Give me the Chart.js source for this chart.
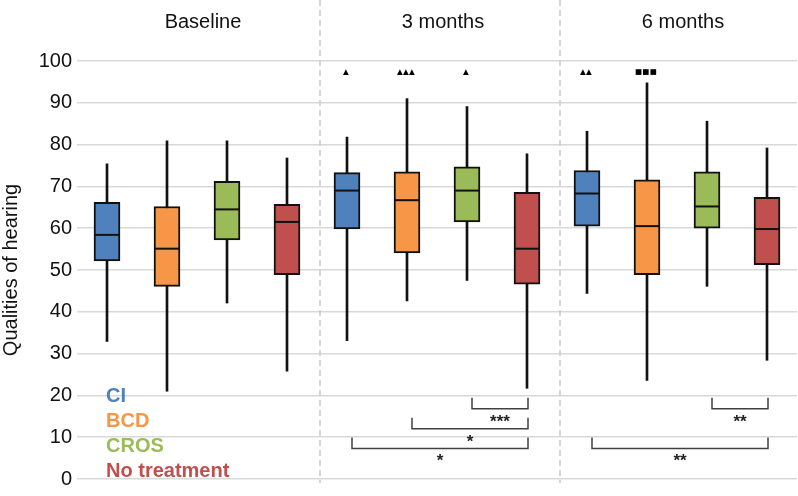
<!DOCTYPE html>
<html><head><meta charset="utf-8">
<script src="https://cdn.jsdelivr.net/npm/chart.js@4"></script>
<style>html,body{margin:0;padding:0;background:#fff}#wrap{width:798px;height:496px;position:relative}</style>
</head><body><div id="wrap"><canvas id="c"></canvas></div>
<script>
// ---- data ----
const groups = ['Baseline', '3 months', '6 months'];
const treatments = ['CI', 'BCD', 'CROS', 'No treatment'];
const treatmentColors = ['#4F81BD', '#F79646', '#9BBB59', '#C0504D'];
const whiskerLow  = [32.9, 21.0, 42.1, 25.8,  33.1, 42.6, 47.5, 21.7,  44.4, 23.6, 46.1, 28.4];
const q1          = [52.2, 46.1, 57.2, 48.9,  59.8, 54.1, 61.5, 46.6,  60.5, 48.9, 60.0, 51.3];
const median      = [58.4, 55.1, 64.5, 61.5,  69.0, 66.7, 69.0, 55.1,  68.3, 60.5, 65.2, 59.8];
const q3          = [66.2, 65.2, 71.2, 65.7,  73.3, 73.5, 74.7, 68.6,  73.8, 71.6, 73.5, 67.4];
const whiskerHigh = [75.4, 80.9, 80.9, 76.8,  81.8, 91.0, 89.1, 77.8,  83.2, 94.8, 85.6, 79.2];
const outlierMarks = ['', '', '', '',  '▲', '▲▲▲', '▲', '',  '▲▲', '■■■', '', ''];
const outlierLevel = 97.4;
const bracketFrom  = [6, 5, 4, 10, 8];
const bracketTo    = [7, 7, 7, 11, 11];
const bracketLevel = [16.8, 12.0, 7.3, 16.8, 7.3];
const bracketLabel = ['***', '*', '*', '**', '**'];
const yMin = 0, yMax = 100, yStep = 10;
const yTitle = 'Qualities of hearing';

// ---- derived tables ----
const categories = groups.flatMap(g => treatments.map(t => g + ' ' + t));
const catColors = categories.map((c, i) => treatmentColors[i % treatments.length]);
const FONT = '"Liberation Sans", Arial, sans-serif';

const deco = {
  id: 'deco',
  beforeDatasetsDraw(chart) {
    const {ctx, chartArea, scales: {x}} = chart;
    ctx.save();
    ctx.strokeStyle = '#c8c8c8'; ctx.lineWidth = 1.5; ctx.setLineDash([6, 4]);
    for (let g = 1; g < groups.length; g++) {
      const i = g * treatments.length;
      const px = (x.getPixelForValue(i - 1) + x.getPixelForValue(i)) / 2 + 3;
      ctx.beginPath(); ctx.moveTo(px, 0); ctx.lineTo(px, chartArea.bottom + 4); ctx.stroke();
    }
    ctx.restore();
  },
  afterDatasetsDraw(chart) {
    const {ctx, chartArea, scales: {x, y}} = chart;
    ctx.save();
    // medians
    const meta = chart.getDatasetMeta(1);
    ctx.strokeStyle = '#111'; ctx.lineWidth = 2;
    meta.data.forEach((bar, i) => {
      const py = y.getPixelForValue(median[i]);
      ctx.beginPath(); ctx.moveTo(bar.x - bar.width / 2 + 1, py); ctx.lineTo(bar.x + bar.width / 2 - 1, py); ctx.stroke();
    });
    // outlier markers
    ctx.fillStyle = '#000';
    ctx.font = '7.5px "DejaVu Sans", sans-serif';
    ctx.letterSpacing = '0.3px';
    ctx.textAlign = 'center'; ctx.textBaseline = 'middle';
    outlierMarks.forEach((m, i) => {
      if (!m) return;
      ctx.fillText(m, x.getPixelForValue(i) - 1, y.getPixelForValue(outlierLevel));
    });
    ctx.letterSpacing = '0px';
    // significance brackets
    ctx.strokeStyle = '#404040'; ctx.lineWidth = 1.5;
    ctx.font = 'bold 17px ' + FONT; ctx.textBaseline = 'alphabetic';
    ctx.fillStyle = '#222';
    bracketFrom.forEach((f, k) => {
      const x1 = x.getPixelForValue(f) + 5, x2 = x.getPixelForValue(bracketTo[k]) + 1;
      const py = y.getPixelForValue(bracketLevel[k]);
      ctx.beginPath();
      ctx.moveTo(x1, py - 11); ctx.lineTo(x1, py); ctx.lineTo(x2, py); ctx.lineTo(x2, py - 11);
      ctx.stroke();
      ctx.fillText(bracketLabel[k], (x1 + x2) / 2, py + 18);
    });
    // group titles
    ctx.font = '20px ' + FONT; ctx.fillStyle = '#111';
    groups.forEach((g, gi) => {
      const a = x.getPixelForValue(gi * treatments.length);
      const b = x.getPixelForValue(gi * treatments.length + treatments.length - 1);
      ctx.fillText(g, (a + b) / 2 + 6, 28);
    });
    // legend (coloured labels)
    ctx.font = 'bold 20px ' + FONT; ctx.textAlign = 'left';
    treatments.forEach((t, i) => {
      ctx.fillStyle = treatmentColors[i];
      ctx.fillText(t, chartArea.left + 29, chartArea.bottom - 77 + i * 25);
    });
    ctx.restore();
  }
};

new Chart(document.getElementById('c'), {
  type: 'bar',
  data: {
    labels: categories,
    datasets: [
      {
        label: 'whiskers',
        data: categories.map((c, i) => [whiskerLow[i], whiskerHigh[i]]),
        backgroundColor: '#111', borderWidth: 0, barThickness: 2,
        grouped: false, order: 2
      },
      {
        label: 'boxes',
        data: categories.map((c, i) => [q1[i], q3[i]]),
        backgroundColor: catColors, borderColor: '#111', borderWidth: 2,
        borderSkipped: false, barThickness: 26,
        grouped: false, order: 1
      }
    ]
  },
  options: {
    responsive: true, maintainAspectRatio: false, animation: false,
    layout: {padding: {top: 61, bottom: 12, right: 1, left: 0}},
    plugins: {legend: {display: false}, tooltip: {enabled: false}},
    scales: {
      x: {display: false},
      y: {
        min: yMin, max: yMax,
        ticks: {stepSize: yStep, color: '#111', font: {family: FONT, size: 20}, padding: 5},
        grid: {color: '#d9d9d9', lineWidth: 1.5, drawTicks: false},
        border: {display: false},
        title: {display: true, text: yTitle, color: '#111', font: {family: FONT, size: 20, lineHeight: 1.1}, padding: 0},
        afterFit(scale) { scale.width = 77; }
      }
    }
  },
  plugins: [deco]
});
</script>
</body></html>
